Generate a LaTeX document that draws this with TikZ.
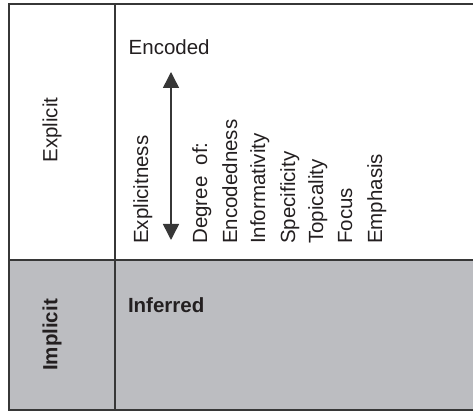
\documentclass[tikz,border=0pt]{standalone}
\usepackage{fontspec}
\setmainfont{Liberation Sans}
\usetikzlibrary{arrows.meta}
\definecolor{linegray}{RGB}{55,55,55}
\definecolor{implgray}{RGB}{188,189,193}
\definecolor{textgray}{RGB}{35,31,32}
\begin{document}
\begin{tikzpicture}[x=1pt,y=-1pt,
  every node/.style={inner sep=0pt, text=textgray, font=\fontsize{20.5}{24}\selectfont},
  boldlabel/.style={font=\fontsize{20.5}{24}\selectfont\bfseries},
  vlabel/.style={rotate=90, anchor=base west},
  frame/.style={draw=linegray, line width=2pt},
  dblarrow/.style={draw=linegray, fill=textgray, line width=1.5pt,
    {Triangle[length=16pt,width=16pt]}-{Triangle[length=16pt,width=16pt]}}]
\useasboundingbox (0,0) rectangle (473,411);
\fill[implgray] (9,260) rectangle (480,410);
\draw[frame] (480,4) -- (9,4) -- (9,410) -- (480,410);
\draw[frame] (9,260) -- (480,260);
\draw[frame] (115,4) -- (115,410);
\node[rotate=90] (explicit) at (52,130) {Explicit};
\node[rotate=90, boldlabel] (implicit) at (52,335) {Implicit};
\node[anchor=base west] (encoded) at (128.5,55) {Encoded};
\node[anchor=base west, boldlabel] (inferred) at (127.8,312) {Inferred};
\node[vlabel] (explicitness) at (148,244) {Explicitness};
\node[vlabel] (degree) at (207,244) {Degree\ \ of:};
\node[vlabel] (encodedness) at (237,244) {Encodedness};
\node[vlabel] (informativity) at (265,244) {Informativity};
\node[vlabel] (specificity) at (295,244) {Specificity};
\node[vlabel] (topicality) at (323,244) {Topicality};
\node[vlabel] (focus) at (352,244) {Focus};
\node[vlabel] (emphasis) at (382,244) {Emphasis};
\coordinate (atop) at (171,72);
\coordinate (abot) at (171,240);
\draw[dblarrow] (atop) -- (abot);
\end{tikzpicture}
\end{document}
